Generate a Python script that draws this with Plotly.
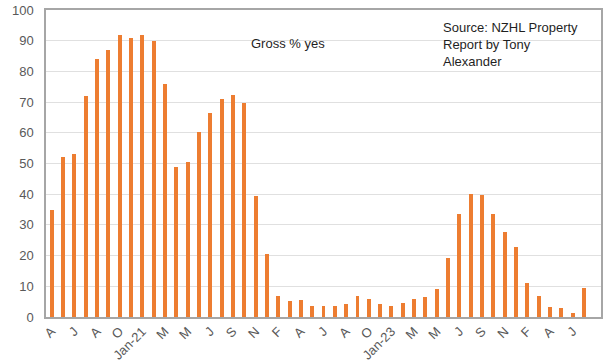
import plotly.graph_objects as go

# Survey months (no December survey), April 2020 to July 2024
months = [
    "Apr-20", "May-20", "Jun-20", "Jul-20", "Aug-20", "Sep-20", "Oct-20", "Nov-20",
    "Jan-21", "Feb-21", "Mar-21", "Apr-21", "May-21", "Jun-21", "Jul-21", "Aug-21",
    "Sep-21", "Oct-21", "Nov-21",
    "Jan-22", "Feb-22", "Mar-22", "Apr-22", "May-22", "Jun-22", "Jul-22", "Aug-22",
    "Sep-22", "Oct-22", "Nov-22",
    "Jan-23", "Feb-23", "Mar-23", "Apr-23", "May-23", "Jun-23", "Jul-23", "Aug-23",
    "Sep-23", "Oct-23", "Nov-23",
    "Jan-24", "Feb-24", "Mar-24", "Apr-24", "May-24", "Jun-24", "Jul-24",
]

# Gross % of respondents answering "yes"
gross_yes = [
    35, 52, 53, 72, 84, 87, 92, 91,
    92, 90, 76, 49, 50.5, 60.3, 66.3, 71,
    72.2, 69.6, 39.4, 20.4,
    6.9, 5.1, 5.5, 3.6, 3.5, 3.5, 4.1, 6.9,
    5.9, 4.3, 3.7, 4.7, 5.8, 6.6, 9.1, 19.3,
    33.6, 40, 39.9, 33.4, 27.7, 22.7,
    11, 7, 3.1, 2.9, 1.2, 9.4,
]

y_ticks = list(range(0, 101, 10))

x_pos = list(range(len(months)))


def short_label(m):
    name, yr = m.split("-")
    return m if name == "Jan" else name[0]


tick_vals = x_pos[::2]
tick_text = [short_label(months[i]) for i in tick_vals]

fig = go.Figure(
    go.Bar(
        x=x_pos,
        y=gross_yes,
        width=0.35,
        marker=dict(color="#ED7D31", line=dict(width=0)),
        hovertext=months,
    )
)

axis_line = "#A6A6A6"
tick_font = dict(family="Liberation Sans, Arial, sans-serif", size=13, color="#595959")

fig.update_xaxes(
    range=[-0.5, len(months) + 0.5],
    tickmode="array",
    tickvals=tick_vals,
    ticktext=tick_text,
    tickangle=-45,
    tickfont=tick_font,
    showgrid=False,
    zeroline=False,
    showline=True,
    linecolor=axis_line,
    linewidth=1.5,
    mirror=True,
    ticks="",
)

fig.update_yaxes(
    range=[0, 100],
    tickmode="array",
    tickvals=y_ticks,
    tickfont=tick_font,
    showgrid=True,
    gridcolor="#E0E0E0",
    gridwidth=1,
    zeroline=False,
    showline=True,
    linecolor=axis_line,
    linewidth=1.5,
    mirror=True,
    ticks="",
    ticklabelstandoff=8,
)

text_font = dict(family="Liberation Sans, Arial, sans-serif", size=13, color="#1F1F1F")

fig.add_annotation(
    text="Gross % yes",
    xref="paper", yref="paper",
    x=0.436, y=0.892,
    xanchor="center", yanchor="middle",
    showarrow=False,
    font=text_font,
)

fig.add_annotation(
    text="Source: NZHL Property<br>Report by Tony<br>Alexander",
    xref="paper", yref="paper",
    x=0.712, y=0.889,
    xanchor="left", yanchor="middle",
    align="left",
    showarrow=False,
    font=text_font,
)

fig.update_layout(
    width=604,
    height=364,
    margin=dict(l=46, r=1, t=10, b=46),
    paper_bgcolor="white",
    plot_bgcolor="white",
    showlegend=False,
    bargap=0,
)

fig.write_html("out.html")
